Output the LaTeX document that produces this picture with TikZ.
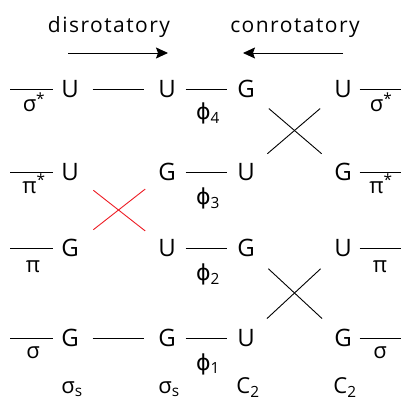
\documentclass[tikz,border=0pt]{standalone}
\usepackage{fontspec}
\setmainfont{Open Sans}
\newfontfamily\ttlfont[LetterSpace=7]{Open Sans}
\newfontfamily\phifont{DejaVu Sans}
\usetikzlibrary{arrows.meta}
\definecolor{xred}{RGB}{237,28,36}

\begin{document}
\begin{tikzpicture}[x=1pt,y=-1pt,line width=0.9pt,
  orb/.style={inner sep=0pt,text height=17pt,text depth=0pt,font=\fontsize{24}{28}\selectfont},
  lbl/.style={anchor=base,inner sep=0pt,font=\fontsize{22}{26}\selectfont},
  ttl/.style={anchor=base,inner sep=0pt,font=\fontsize{21}{25}\ttlfont},
  corr/.style={shorten <=18pt,shorten >=16pt}]
  \useasboundingbox (0,0) rectangle (403,403);

  % Coordinates
  \coordinate (P) at (68,53);
  \coordinate (Q) at (168,53);
  \coordinate (S) at (343,53);
  \coordinate (T) at (243,53);
  \coordinate (L1) at (10,89);
  \coordinate (L2) at (10,172);
  \coordinate (L3) at (10,248);
  \coordinate (L4) at (10,338);
  \coordinate (R1) at (401,89);
  \coordinate (R2) at (401,172);
  \coordinate (R3) at (401,248);
  \coordinate (R4) at (401,338);

  % Orbitals
  \node[orb] (A1) at (70,89) {U};
  \node[orb] (A2) at (70,172) {U};
  \node[orb] (A3) at (70,248) {G};
  \node[orb] (A4) at (70,338) {G};
  \node[orb] (B1) at (167,89) {U};
  \node[orb] (B2) at (167,172) {G};
  \node[orb] (B3) at (167,248) {U};
  \node[orb] (B4) at (167,338) {G};
  \node[orb] (C1) at (246,89) {G};
  \node[orb] (C2) at (246,172) {U};
  \node[orb] (C3) at (246,248) {G};
  \node[orb] (C4) at (246,338) {U};
  \node[orb] (D1) at (343,89) {U};
  \node[orb] (D2) at (343,172) {G};
  \node[orb] (D3) at (343,248) {U};
  \node[orb] (D4) at (343,338) {G};

  % Drawing
  \draw[-{Stealth[length=12pt,width=11pt,inset=2pt]}] (P) -- (Q);
  \draw[-{Stealth[length=12pt,width=11pt,inset=2pt]}] (S) -- (T);
  \foreach \i in {1,...,4} {
    \draw[shorten >=7.5pt] (L\i) -- (A\i);
    \draw[shorten <=7.5pt] (D\i) -- (R\i);
    \draw[shorten <=9.5pt,shorten >=9.5pt] (B\i) -- (C\i);
  }
  \draw[shorten <=13.5pt,shorten >=13.5pt] (A1) -- (B1);
  \draw[shorten <=13.5pt,shorten >=13.5pt] (A4) -- (B4);
  \draw[corr,xred] (A2) -- (B3);
  \draw[corr,xred] (A3) -- (B2);
  \draw[corr] (C1) -- (D2);
  \draw[corr] (D1) -- (C2);
  \draw[corr] (C3) -- (D4);
  \draw[corr] (D3) -- (C4);

  % Labels
  \node[ttl] (dis) at (109,33) {disrotatory};
  \node[ttl] (con) at (295,33) {conrotatory};
  \node[lbl] (l1) at (34,112) {σ\textsuperscript{*}};
  \node[lbl] (l2) at (34,193) {π\textsuperscript{*}};
  \node[lbl] (l3) at (33,272) {π};
  \node[lbl] (l4) at (33,358) {σ};
  \node[lbl] (r1) at (381,112) {σ\textsuperscript{*}};
  \node[lbl] (r2) at (381,193) {π\textsuperscript{*}};
  \node[lbl] (r3) at (380,272) {π};
  \node[lbl] (r4) at (380,358) {σ};
  \node[lbl] (f4) at (208,120) {{\phifont ϕ}\textsubscript{4}};
  \node[lbl] (f3) at (208,204) {{\phifont ϕ}\textsubscript{3}};
  \node[lbl] (f2) at (208,280) {{\phifont ϕ}\textsubscript{2}};
  \node[lbl] (f1) at (208,370) {{\phifont ϕ}\textsubscript{1}};
  \node[lbl] (m1) at (72,393) {σ\textsubscript{s}};
  \node[lbl] (m2) at (169,393) {σ\textsubscript{s}};
  \node[lbl] (m3) at (248,393) {C\textsubscript{2}};
  \node[lbl] (m4) at (345,393) {C\textsubscript{2}};
\end{tikzpicture}
\end{document}
